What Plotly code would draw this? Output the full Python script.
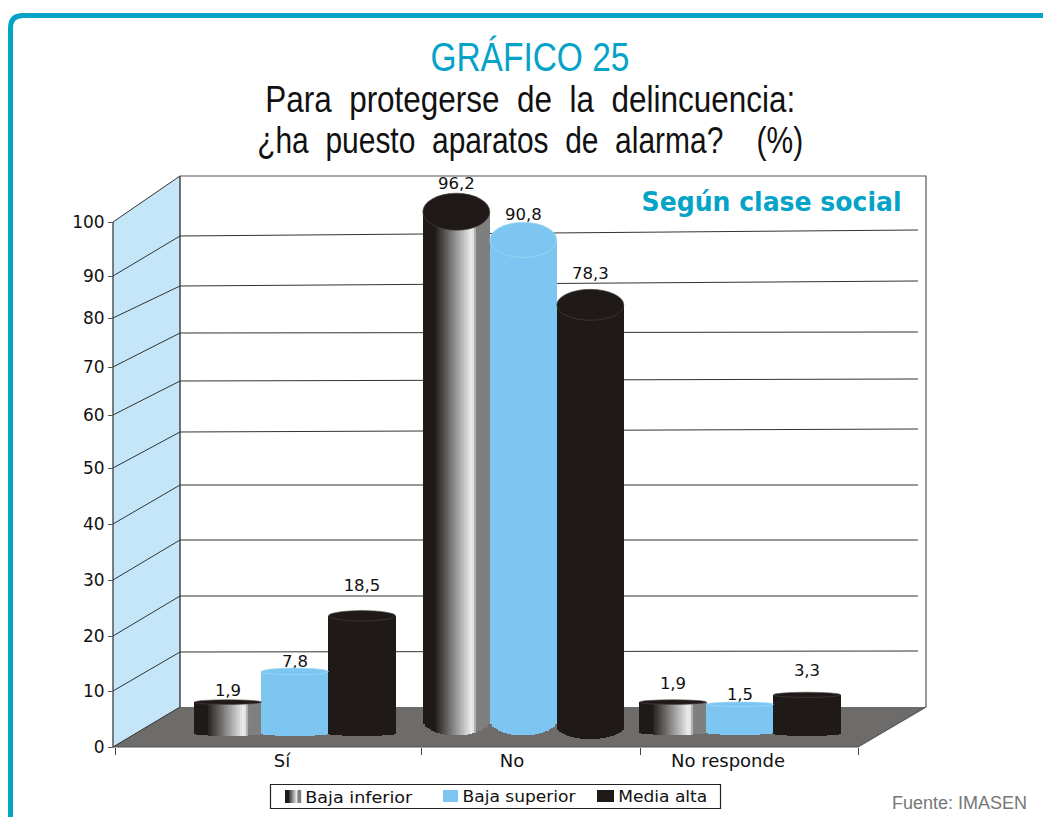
import json
import plotly.graph_objects as go

# ---------- data ----------
categories = ["Sí", "No", "No responde"]
series_names = ["Baja inferior", "Baja superior", "Media alta"]
baja_inferior = [1.9, 96.2, 1.9]
baja_superior = [7.8, 90.8, 1.5]
media_alta = [18.5, 78.3, 3.3]
tick_values = [0, 10, 20, 30, 40, 50, 60, 70, 80, 90, 100]

# ---------- layout constants (pixels of the page) ----------
W, H = 1043, 817
FRONT_TICK_Y = [747, 691, 636, 580, 524, 468, 415, 367, 318, 276, 222]
BACK_LEFT_Y = [707, 652, 596, 540, 485, 432, 381, 333, 286, 236, 176]
BACK_RIGHT_Y = [707, 651, 596, 540, 485, 429, 379, 332, 281, 230, 176]
FRONT_L, FRONT_R, BACK_L, BACK_R, GRID_R = 113, 858, 180, 926, 918

# bar plane: value -> page y is 712 - 5.2 * value, x is 295 + 222.5 * position
BAR_ZERO, BAR_SLOPE = 712, 5.2
X0, X_UNIT = 295, 222.5
GROUP_POS = [0, 1.026, 2]
SLOT = 67 / X_UNIT
SLICES = 34
# foot of the cylinders and how far it curves down, in value units: [series][group]
BASE = [[-4.2, -1.6, -4.0], [-4.2, -1.6, -4.0], [-4.2, -2.9, -4.2]]
FOOT_DEPTH = [[0.4, 2.9, 0.4], [0.4, 2.9, 0.4], [0.4, 2.3, 0.4]]
LABEL_LIFT_PX = [[10, 27, 17], [9, 24, 8], [29, 30, 23]]

TEAL = "#04A3C7"
BLUE = "#7CC6F1"
BLACK = "#1F1A17"
GREY = "#6E6C6B"
WALL = "#C5E5F8"
LABEL_FONT = "DejaVu Sans"
SANS = "Liberation Sans"


def px_x(x):
    return x / W


def px_y(y):
    return 1 - y / H


def hexmix(a, b, t):
    ca = [int(a[i:i + 2], 16) for i in (1, 3, 5)]
    cb = [int(b[i:i + 2], 16) for i in (1, 3, 5)]
    return "#" + "".join(f"{round(p + (q - p) * t):02x}" for p, q in zip(ca, cb))


def metal(t):
    if t < 0.22:
        return BLACK
    if t < 0.74:
        return hexmix("#2a2725", "#f2f2f2", (t - 0.22) / 0.52)
    if t < 0.81:
        return hexmix("#f2f2f2", "#7f7f7f", (t - 0.74) / 0.07)
    return "#7f7f7f"


def paint(kind, t):
    return metal(t) if kind == 0 else (BLUE if kind == 1 else BLACK)


shapes = []


def poly(points, fill=None, line=None, width=1, layer="below"):
    path = "M " + " L ".join(f"{px_x(x):.5f},{px_y(y):.5f}" for x, y in points)
    if fill:
        path += " Z"
    shapes.append(dict(type="path", xref="paper", yref="paper", path=path, layer=layer,
                       fillcolor=fill or "rgba(0,0,0,0)",
                       line=dict(color=line or "rgba(0,0,0,0)", width=width if line else 0)))


# frame
shapes.append(dict(type="path", xref="paper", yref="paper", layer="below",
                   path=f"M {px_x(10.5)},0 L {px_x(10.5)},{px_y(28)} "
                        f"Q {px_x(10.5)},{px_y(15.5)} {px_x(23)},{px_y(15.5)} L 1,{px_y(15.5)}",
                   line=dict(color=TEAL, width=5)))

# walls and floor
poly([(FRONT_L, 747), (BACK_L, 707), (BACK_L, 176), (FRONT_L, 222)], fill=WALL)
poly([(FRONT_L, 747), (FRONT_R, 747), (BACK_R, 707), (BACK_L, 707)], fill=GREY)
poly([(FRONT_L, 222), (FRONT_L, 747)], line="#555555", width=1.5)
poly([(BACK_L, 176), (BACK_L, 707)], line="#444444", width=1.5)
poly([(BACK_L, 176), (BACK_R, 176), (BACK_R, 707)], line="#555555", width=1.2)
poly([(FRONT_L, 747), (FRONT_R, 747), (BACK_R, 707)], line="#555555", width=1.2)
for fy, ly, ry in zip(FRONT_TICK_Y, BACK_LEFT_Y, BACK_RIGHT_Y):
    poly([(FRONT_L, fy), (BACK_L, ly)], line="#333333", width=1)
    if 176 < ly < 707:
        poly([(BACK_L, ly), (GRID_R, ry)], line="#333333", width=1)

# cylinders
fig = go.Figure()
all_series = [baja_inferior, baja_superior, media_alta]


def half_height(v):
    return (2 + 0.172 * v) / BAR_SLOPE


for s, values in enumerate(all_series):
    xs, ys, bases, colors = [], [], [], []
    for g, v in enumerate(values):
        left = GROUP_POS[g] + (s - 1.5) * SLOT
        for i in range(SLICES):
            t = (i + 0.5) / SLICES
            curve = (1 - (2 * t - 1) ** 2) ** 0.5
            foot = BASE[s][g] - FOOT_DEPTH[s][g] * curve
            xs.append(left + t * SLOT)
            bases.append(foot)
            ys.append(v - foot)
            colors.append(paint(s, t))
        h = half_height(v)
        shapes.append(dict(type="circle", xref="x", yref="y2", layer="above",
                           x0=left, x1=left + SLOT, y0=v - h, y1=v + h,
                           fillcolor=BLUE if s == 1 else BLACK,
                           line=dict(color="#A9DDF8" if s == 1 else "#4a4644", width=0.6)))
    fig.add_trace(go.Bar(x=xs, y=ys, base=bases, width=SLOT / SLICES * 1.12,
                         marker=dict(color=colors, line=dict(width=0)),
                         xaxis="x", yaxis="y2", name=series_names[s], showlegend=False,
                         hoverinfo="skip"))

# value labels
lx, ly, lt = [], [], []
for s, values in enumerate(all_series):
    for g, v in enumerate(values):
        lx.append(GROUP_POS[g] + (s - 1) * SLOT)
        ly.append(v + LABEL_LIFT_PX[s][g] / BAR_SLOPE)
        lt.append(f"{v:.1f}".replace(".", ","))
fig.add_trace(go.Scatter(x=lx, y=ly, text=lt, mode="text", textposition="middle center",
                         textfont=dict(family=LABEL_FONT, size=16.5, color="#111111"),
                         xaxis="x", yaxis="y2", showlegend=False, hoverinfo="skip",
                         cliponaxis=False))

# keeps the front value axis alive: an axis without a trace is not drawn
fig.add_trace(go.Scatter(x=[GROUP_POS[0]], y=[tick_values[0]], mode="markers",
                         marker=dict(opacity=0), xaxis="x", yaxis="y", showlegend=False,
                         hoverinfo="skip"))

# legend box
poly([(270.5, 784.5), (720.5, 784.5), (720.5, 808.5), (270.5, 808.5)], fill="#FFFFFF",
     line="#222222", width=1.2)
for i in range(16):
    t = (i + 0.5) / 16
    x = 285 + i
    poly([(x, 790), (x + 1.2, 790), (x + 1.2, 803), (x, 803)], fill=metal(t))
poly([(443, 790), (458, 790), (458, 802), (443, 802)], fill=BLUE)
poly([(597, 790), (614, 790), (614, 802), (597, 802)], fill=BLACK)

annotations = []
fit_width = {}   # text -> width in the page; glyphs are condensed to it


def text(x, y, s, size, color="#111111", family=LABEL_FONT, anchor="center", bold=False, width=None):
    annotations.append(dict(xref="paper", yref="paper", x=px_x(x), y=px_y(y), text=f"<b>{s}</b>" if bold else s,
                            showarrow=False, xanchor=anchor, yanchor="middle",
                            font=dict(family=family, size=size, color=color)))
    if width:
        fit_width[s] = width


NB = "\u00a0"
text(529.5, 57, "GRÁFICO 25", 40, color=TEAL, family=SANS, width=199)
text(530, 100, f"Para{NB*2}protegerse{NB*2}de{NB*2}la{NB*2}delincuencia:", 36, family=SANS, width=530)
text(530, 140, f"¿ha{NB*2}puesto{NB*2}aparatos{NB*2}de{NB*2}alarma?{NB*4}(%)", 36, family=SANS, width=546)
text(771, 202, "Según clase social", 26, color=TEAL, bold=True, width=260)
text(308, 797, series_names[0], 16, anchor="left", width=107)
text(464, 796, series_names[1], 16, anchor="left", width=113)
text(619, 796, series_names[2], 16, anchor="left", width=89)
text(1029, 803, "Fuente: IMASEN", 18, color="#777777", family=SANS, anchor="right")

slope_front = 5.25
front_zero = 747
front_ticks = [(front_zero - y) / slope_front for y in FRONT_TICK_Y]

fig.update_layout(
    width=W, height=H, margin=dict(l=0, r=0, t=0, b=0),
    paper_bgcolor="#FFFFFF", plot_bgcolor="rgba(0,0,0,0)",
    barmode="overlay", bargap=0, shapes=shapes, annotations=annotations, showlegend=False,
    xaxis=dict(domain=[0, 1], range=[-X0 / X_UNIT, (W - X0) / X_UNIT], anchor="free",
               position=(H - 747) / H, showgrid=False, zeroline=False, showline=False,
               tickmode="array",
               tickvals=[(282 - X0) / X_UNIT, (512 - X0) / X_UNIT, (728 - X0) / X_UNIT],
               ticktext=categories, ticks="outside", ticklen=4, tickcolor="rgba(0,0,0,0)",
               ticklabelstandoff=-7,
               tickfont=dict(family=LABEL_FONT, size=18, color="#111111"),
               minor=dict(ticks="outside", ticklen=7, tickcolor="#444444", showgrid=False,
                          tickvals=[(p - X0) / X_UNIT for p in (115, 421, 640, 858)])),
    yaxis=dict(domain=[0, 1], range=[(front_zero - H) / slope_front, front_zero / slope_front],
               anchor="free", position=FRONT_L / W, showgrid=False, zeroline=False, showline=False,
               tickmode="array", tickvals=front_ticks, ticktext=[str(v) for v in tick_values],
               ticks="outside", ticklen=5, tickcolor="#555555",
               tickfont=dict(family=LABEL_FONT, size=17, color="#111111")),
    yaxis2=dict(domain=[0, 1], range=[(BAR_ZERO - H) / BAR_SLOPE, BAR_ZERO / BAR_SLOPE],
                overlaying="y", visible=False),
)

post = (
    "document.body.style.margin='0';document.body.style.overflow='hidden';"
    f"var fit={json.dumps(fit_width)};"
    "document.querySelectorAll('.annotation-text').forEach(function(t){"
    "var w=fit[t.textContent];if(w){t.setAttribute('textLength',w);"
    "t.setAttribute('lengthAdjust','spacingAndGlyphs');}});"
)
fig.write_html("out.html", config=dict(displayModeBar=False), post_script=post)
